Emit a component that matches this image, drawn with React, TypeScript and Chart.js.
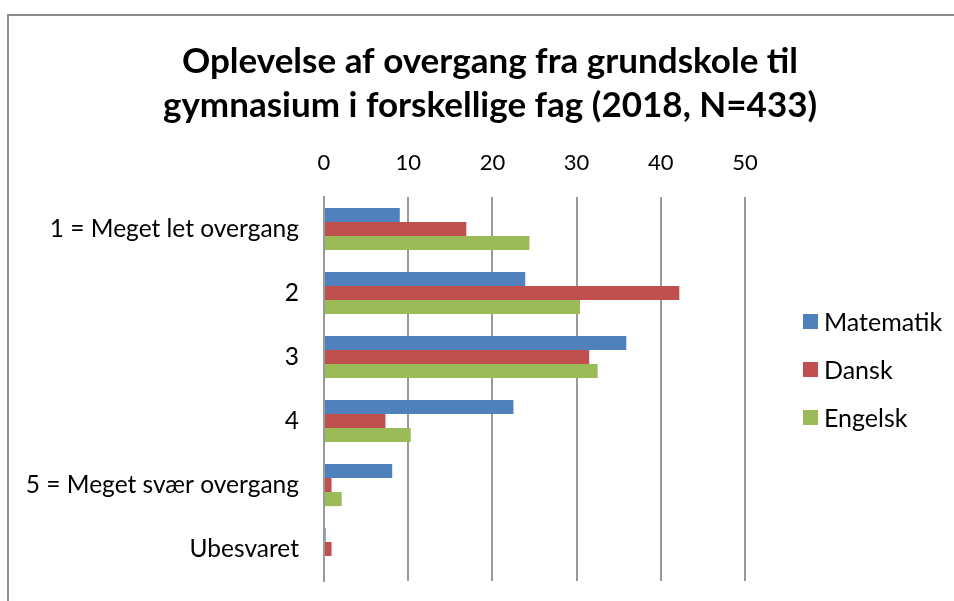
import React, { useEffect, useRef } from 'react';
import { Chart, registerables } from 'chart.js';

Chart.register(...registerables);

const categories = ['1 = Meget let overgang', '2', '3', '4', '5 = Meget svær overgang', 'Ubesvaret'];
const matematik = [9.0, 23.9, 35.9, 22.5, 8.1, 0.2];
const dansk = [16.9, 42.2, 31.5, 7.3, 0.9, 0.9];
const engelsk = [24.4, 30.4, 32.5, 10.3, 2.1, 0];
const seriesNames = ['Matematik', 'Dansk', 'Engelsk'];
const seriesColors = ['#4F81BD', '#C0504D', '#9BBB59'];
const xTicks = [0, 10, 20, 30, 40, 50];
const titleLines = ['Oplevelse af overgang fra grundskole til', 'gymnasium i forskellige fag (2018, N=433)'];

const FONT = 'Lato, "Open Sans", sans-serif';

const borderPlugin = {
  id: 'outerBorder',
  beforeDraw(chart: any) {
    const ctx = chart.ctx;
    ctx.save();
    ctx.fillStyle = '#ffffff';
    ctx.fillRect(0, 0, chart.width, chart.height);
    ctx.strokeStyle = '#8c8c8c';
    ctx.lineWidth = 2;
    ctx.beginPath();
    ctx.moveTo(8, chart.height + 5);
    ctx.lineTo(8, 15);
    ctx.lineTo(chart.width + 5, 15);
    ctx.stroke();
    ctx.restore();
  },
};

const legendPlugin = {
  id: 'sideLegend',
  afterDraw(chart: any) {
    const ctx = chart.ctx;
    const x0 = chart.chartArea.right + 58;
    const yCenter = 370;
    const step = 48;
    const ds = chart.data.datasets;
    const n = ds.length;
    ctx.save();
    ctx.font = `25px ${FONT}`;
    ctx.textBaseline = 'middle';
    ctx.textAlign = 'left';
    ds.forEach((d: any, i: number) => {
      const y = yCenter + (i - (n - 1) / 2) * step;
      ctx.fillStyle = d.backgroundColor;
      ctx.fillRect(x0, y - 8, 15, 15);
      ctx.fillStyle = '#000';
      ctx.fillText(d.label, x0 + 21, y + 1);
    });
    ctx.restore();
  },
};

export default function App() {
  const ref = useRef<HTMLCanvasElement>(null);

  useEffect(() => {
    if (!ref.current) return;
    const series = [matematik, dansk, engelsk];
    const chart = new Chart(ref.current, {
      type: 'bar',
      data: {
        labels: categories,
        datasets: series.map((vals, i) => ({
          label: seriesNames[i],
          data: vals,
          backgroundColor: seriesColors[i],
          borderWidth: 0,
          categoryPercentage: 0.66,
          barPercentage: 1,
          xAxisID: 'x',
          yAxisID: 'y',
        })),
      },
      options: {
        indexAxis: 'y',
        responsive: false,
        animation: false,
        layout: { padding: { left: 26, right: 0, top: 0, bottom: 20 } },
        plugins: {
          legend: { display: false },
          tooltip: { enabled: false },
          title: {
            display: true,
            text: titleLines,
            color: '#000',
            font: { family: FONT, size: 35, weight: 'bold', lineHeight: 44 / 35 },
            padding: { top: 40, bottom: 10 },
          },
        },
        scales: {
          x: {
            type: 'linear',
            position: 'top',
            min: 0,
            max: 50,
            afterBuildTicks: (s: any) => {
              s.ticks = xTicks.map((v) => ({ value: v }));
            },
            afterFit: (s: any) => {
              s.height = 59;
            },
            ticks: {
              color: '#000',
              font: { family: FONT, size: 22 },
              padding: 21,
            },
            grid: { color: '#9a9a9a', lineWidth: 2, drawTicks: false },
            border: { display: false },
          },
          y: {
            type: 'category',
            position: 'left',
            afterFit: (s: any) => {
              s.width = 298;
            },
            ticks: {
              color: '#000',
              font: { family: FONT, size: 24.5 },
              padding: 0,
              autoSkip: false,
            },
            grid: {
              display: true,
              drawOnChartArea: false,
              drawTicks: true,
              tickLength: 25,
              color: 'rgba(0,0,0,0)',
            },
            border: { display: true, color: '#9a9a9a', width: 2 },
          },
          yRight: {
            type: 'linear',
            position: 'right',
            min: 0,
            max: 1,
            afterFit: (s: any) => {
              s.width = 209;
            },
            ticks: { display: false },
            grid: { display: false, drawTicks: false },
            border: { display: false },
          },
        },
      },
      plugins: [borderPlugin, legendPlugin],
    } as any);
    return () => chart.destroy();
  }, []);

  return (
    <div style={{ position: 'absolute', left: 0, top: 0, width: 954, height: 601 }}>
      <canvas ref={ref} width={954} height={601} style={{ display: 'block' }} />
    </div>
  );
}
